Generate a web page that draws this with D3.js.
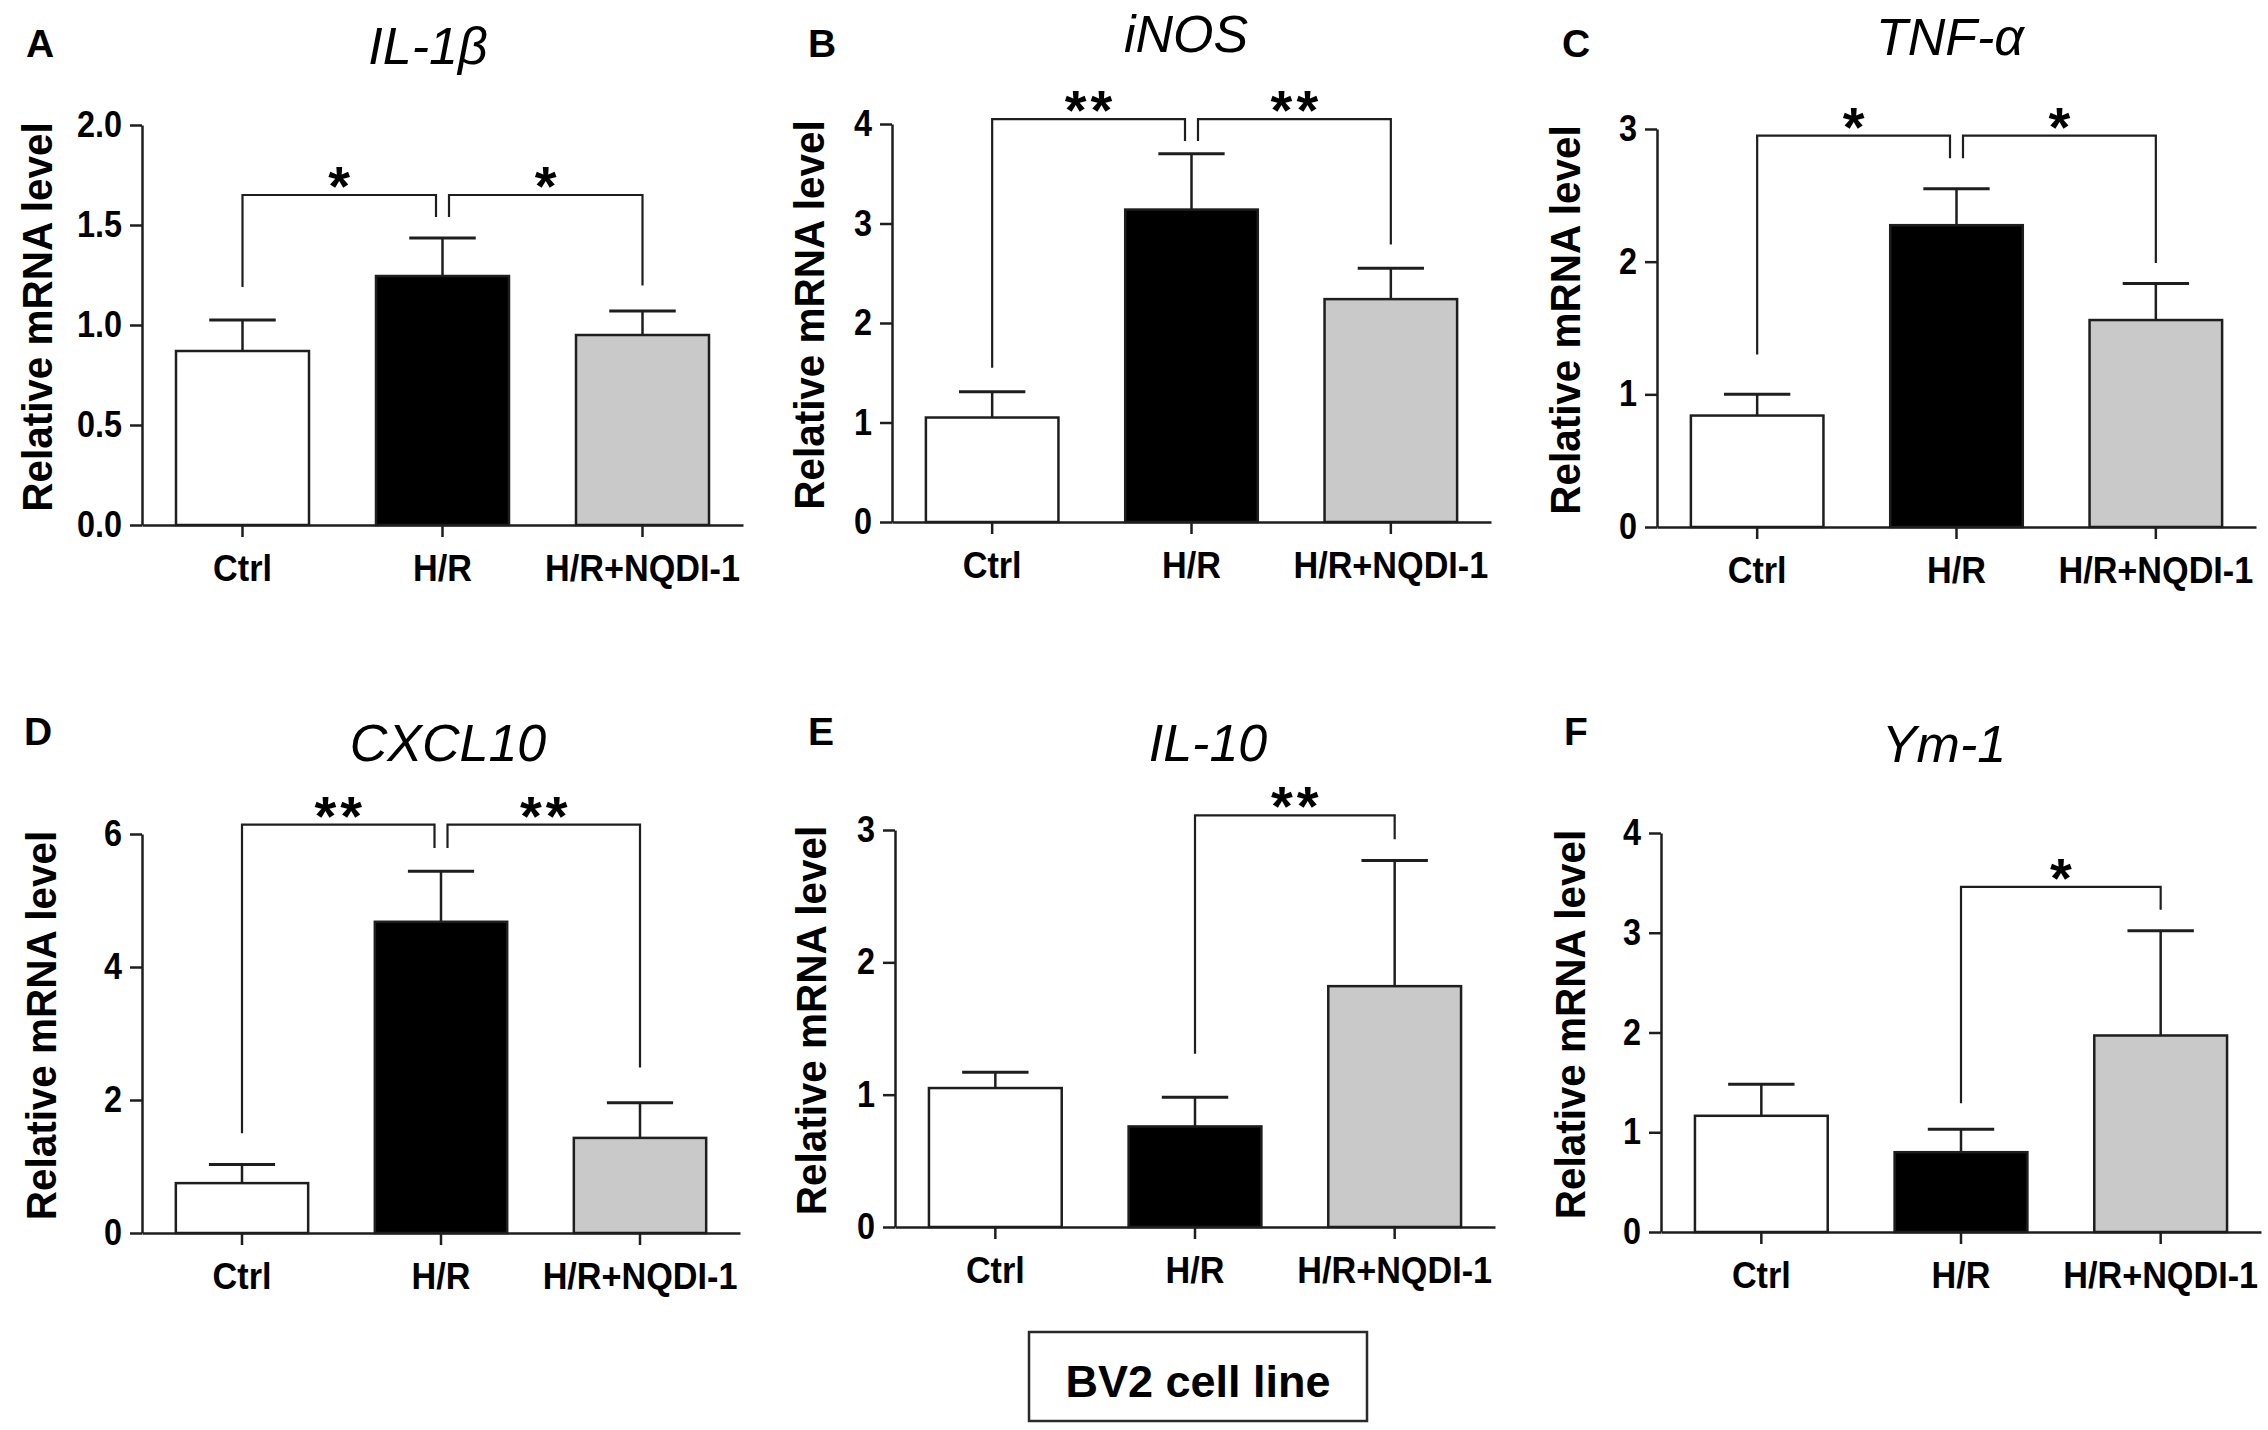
<!DOCTYPE html>
<html>
<head>
<meta charset="utf-8">
<script src="https://cdn.jsdelivr.net/npm/d3@7/dist/d3.min.js"></script>
<style>
  html, body { margin: 0; padding: 0; background: #fff; }
  svg { display: block; }
  text { font-family: "Liberation Sans", Arial, sans-serif; }
</style>
</head>
<body>
<svg id="chart" width="2268" height="1430"></svg>
<script>
// ---------------- DATA ----------------
const panelLetters = ["A", "B", "C", "D", "E", "F"];
const genes = ["IL-1β", "iNOS", "TNF-α", "CXCL10", "IL-10", "Ym-1"];
const groups = ["Ctrl", "H/R", "H/R+NQDI-1"];
const means = [
  [0.87, 1.245, 0.95],
  [1.05, 3.14, 2.24],
  [0.84, 2.275, 1.56],
  [0.75, 4.68, 1.43],
  [1.05, 0.76, 1.82],
  [1.165, 0.80, 1.97]
];
const errorTops = [
  [1.025, 1.435, 1.07],
  [1.31, 3.70, 2.55],
  [1.00, 2.55, 1.835],
  [1.03, 5.44, 1.96],
  [1.17, 0.98, 2.77],
  [1.48, 1.03, 3.02]
];
const yMax = [2, 4, 3, 6, 3, 4];
const yTickValues = [
  [0, 0.5, 1, 1.5, 2],
  [0, 1, 2, 3, 4],
  [0, 1, 2, 3],
  [0, 2, 4, 6],
  [0, 1, 2, 3],
  [0, 1, 2, 3, 4]
];
const yTickFormats = [".1f", "d", "d", "d", "d", "d"];
// significance brackets: from group a to group b at height y, leg ends la / lb
const brackets = [
  [{a: 0, b: 1, y: 1.65, la: 1.19, lb: 1.54, mark: "*"},  {a: 1, b: 2, y: 1.65, la: 1.54, lb: 1.198, mark: "*"}],
  [{a: 0, b: 1, y: 4.05, la: 1.55, lb: 3.83, mark: "**"}, {a: 1, b: 2, y: 4.05, la: 3.83, lb: 2.79, mark: "**"}],
  [{a: 0, b: 1, y: 2.95, la: 1.30, lb: 2.78, mark: "*"},  {a: 1, b: 2, y: 2.95, la: 2.78, lb: 1.99, mark: "*"}],
  [{a: 0, b: 1, y: 6.14, la: 1.50, lb: 5.79, mark: "**"}, {a: 1, b: 2, y: 6.14, la: 5.79, lb: 2.49, mark: "**"}],
  [{a: 1, b: 2, y: 3.11, la: 1.31, lb: 2.93, mark: "**"}],
  [{a: 1, b: 2, y: 3.46, la: 1.29, lb: 3.23, mark: "*"}]
];
const yAxisTitle = "Relative mRNA level";
const footerLabel = "BV2 cell line";

// ---------------- LAYOUT / STYLE ----------------
const layout = [
  {x0: 142,  x1: 743,  yTop: 125, y0: 525,  titleX: 428,  titleY: 64,  letterX: 26,   letterY: 57,  ylabX: 52},
  {x0: 892,  x1: 1491, yTop: 124, y0: 522,  titleX: 1186, titleY: 52,  letterX: 808,  letterY: 57,  ylabX: 824},
  {x0: 1657, x1: 2256, yTop: 129, y0: 527,  titleX: 1950, titleY: 55,  letterX: 1562, letterY: 57,  ylabX: 1580},
  {x0: 142,  x1: 740,  yTop: 834, y0: 1233, titleX: 448,  titleY: 761, letterX: 24,   letterY: 745, ylabX: 56},
  {x0: 895,  x1: 1495, yTop: 830, y0: 1227, titleX: 1208, titleY: 761, letterX: 808,  letterY: 745, ylabX: 826},
  {x0: 1661, x1: 2261, yTop: 833, y0: 1232, titleX: 1944, titleY: 762, letterX: 1564, letterY: 745, ylabX: 1585}
];
const barFills = ["#ffffff", "#000000", "#c9c9c9"];
const ink = "#1e1e1e";
const condense = 0.95;   // axis text in the figure is slightly narrow

const svg = d3.select("#chart");

function squeeze(sel, factor) {
  sel.each(function () {
    const w = this.getComputedTextLength();
    d3.select(this).attr("textLength", w * factor).attr("lengthAdjust", "spacingAndGlyphs");
  });
}

panelLetters.forEach((letter, i) => {
  const L = layout[i];
  const g = svg.append("g");

  const x = d3.scaleBand().domain(groups).range([L.x0, L.x1])
    .paddingInner(0.335).paddingOuter(0.17);
  const y = d3.scaleLinear().domain([0, yMax[i]]).range([L.y0, L.yTop]);

  // bars
  g.selectAll("rect.bar").data(groups).enter().append("rect")
    .attr("class", "bar")
    .attr("x", d => x(d))
    .attr("width", x.bandwidth())
    .attr("y", (d, k) => y(means[i][k]))
    .attr("height", (d, k) => y(0) - y(means[i][k]))
    .attr("fill", (d, k) => barFills[k])
    .attr("stroke", ink)
    .attr("stroke-width", 2.5);

  // error bars (upper only)
  groups.forEach((gr, k) => {
    const cx = x(gr) + x.bandwidth() / 2;
    const cw = x.bandwidth() / 2;
    g.append("line")
      .attr("x1", cx).attr("x2", cx)
      .attr("y1", y(means[i][k])).attr("y2", y(errorTops[i][k]))
      .attr("stroke", ink).attr("stroke-width", 2.5);
    g.append("line")
      .attr("x1", cx - cw / 2).attr("x2", cx + cw / 2)
      .attr("y1", y(errorTops[i][k])).attr("y2", y(errorTops[i][k]))
      .attr("stroke", ink).attr("stroke-width", 3);
  });

  // y axis
  const yAxis = d3.axisLeft(y).tickValues(yTickValues[i])
    .tickFormat(d3.format(yTickFormats[i]))
    .tickSizeInner(12).tickSizeOuter(0).tickPadding(8);
  const ya = g.append("g").attr("transform", `translate(${L.x0},0)`).call(yAxis);
  ya.select(".domain").attr("stroke", ink).attr("stroke-width", 2.5);
  ya.selectAll(".tick line").attr("stroke", ink).attr("stroke-width", 2.5);
  ya.selectAll(".tick text")
    .attr("fill", "#000")
    .style("font-size", "36px")
    .style("font-weight", "bold")
    .style("font-family", "'Liberation Sans', Arial, sans-serif")
    .call(squeeze, 0.9);

  // x axis
  const xAxis = d3.axisBottom(x).tickSizeInner(12).tickSizeOuter(0).tickPadding(18);
  const xa = g.append("g").attr("transform", `translate(0,${L.y0})`).call(xAxis);
  xa.select(".domain").attr("stroke", ink).attr("stroke-width", 2.5);
  xa.selectAll(".tick line").attr("stroke", ink).attr("stroke-width", 2.5);
  xa.selectAll(".tick text")
    .attr("fill", "#000")
    .style("font-size", "36px")
    .style("font-weight", "bold")
    .style("font-family", "'Liberation Sans', Arial, sans-serif")
    .call(squeeze, condense);

  // significance brackets
  const nb = brackets[i].length;
  brackets[i].forEach((br, bi) => {
    let xa_ = x(groups[br.a]) + x.bandwidth() / 2;
    let xb_ = x(groups[br.b]) + x.bandwidth() / 2;
    if (nb === 2) {
      if (bi === 0) xb_ -= 6.5;
      else xa_ += 6.5;
    }
    const by = y(br.y);
    const path = d3.path();
    path.moveTo(xa_, y(br.la));
    path.lineTo(xa_, by);
    path.lineTo(xb_, by);
    path.lineTo(xb_, y(br.lb));
    g.append("path").attr("d", path.toString())
      .attr("fill", "none").attr("stroke", ink).attr("stroke-width", 2.2);
    const ls = 4;
    g.append("text")
      .attr("x", (xa_ + xb_) / 2 + (br.mark.length > 1 ? ls / 2 : 0)).attr("y", by + 10)
      .attr("text-anchor", "middle")
      .style("font-size", "56px").style("font-weight", "bold")
      .style("letter-spacing", br.mark.length > 1 ? ls + "px" : "0px")
      .text(br.mark);
  });

  // y axis title
  g.append("text")
    .attr("transform", `translate(${L.ylabX},${(L.y0 + L.yTop) / 2 - 8}) rotate(-90)`)
    .attr("text-anchor", "middle")
    .style("font-size", "43px").style("font-weight", "bold")
    .text(yAxisTitle)
    .call(squeeze, 0.94);

  // gene title
  g.append("text")
    .attr("x", L.titleX).attr("y", L.titleY)
    .attr("text-anchor", "middle")
    .style("font-size", "52px").style("font-style", "italic")
    .text(genes[i]);

  // panel letter
  g.append("text")
    .attr("x", L.letterX).attr("y", L.letterY)
    .style("font-size", "39px").style("font-weight", "bold")
    .text(letter);
});

// footer box
svg.append("rect")
  .attr("x", 1029).attr("y", 1332).attr("width", 338).attr("height", 89)
  .attr("fill", "#fff").attr("stroke", "#2a2a2a").attr("stroke-width", 2.5);
svg.append("text")
  .attr("x", 1198).attr("y", 1397)
  .attr("text-anchor", "middle")
  .style("font-size", "45px").style("font-weight", "bold")
  .text(footerLabel);
</script>
</body>
</html>
